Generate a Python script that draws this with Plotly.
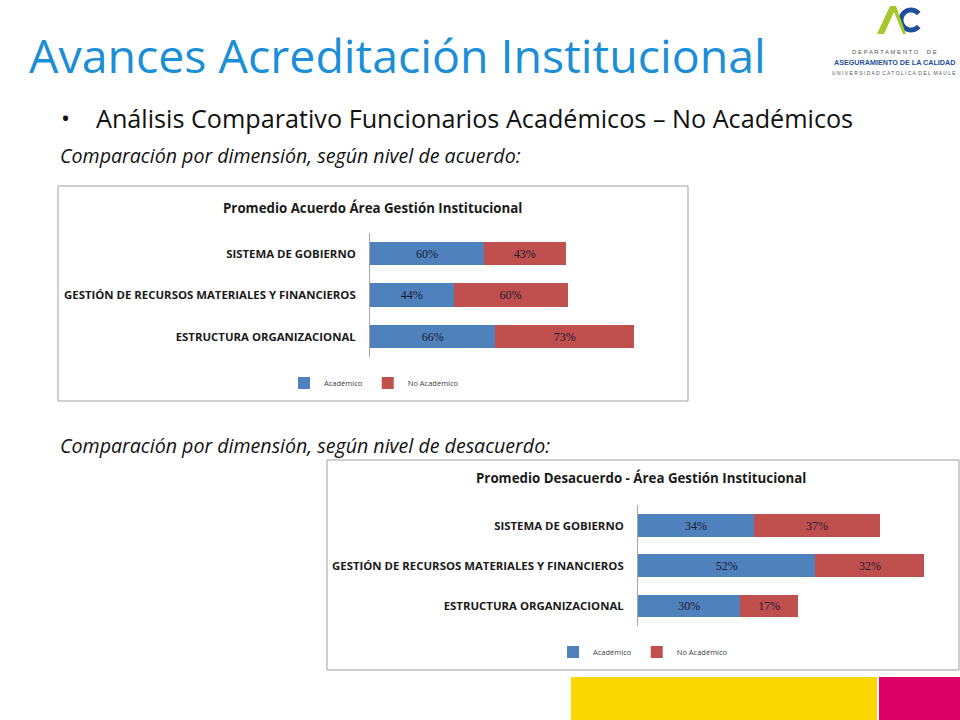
import math
import plotly.graph_objects as go

# ---------------- data ----------------
categories = ["SISTEMA DE GOBIERNO",
              "GESTIÓN DE RECURSOS MATERIALES Y FINANCIEROS",
              "ESTRUCTURA ORGANIZACIONAL"]
series_names = ["Académico", "No Académico"]
acuerdo_academico = [60, 44, 66]
acuerdo_no_academico = [43, 60, 73]
desacuerdo_academico = [34, 52, 30]
desacuerdo_no_academico = [37, 32, 17]

title1 = "Promedio Acuerdo Área Gestión Institucional"
title2 = "Promedio Desacuerdo - Área Gestión Institucional"

W, H = 960, 720
BLUE = "#4F81BD"
RED = "#C0504D"


def px(x):
    return x / W


def py(y):
    return 1 - y / H


fig = go.Figure()

bar_font = dict(family="Liberation Serif", size=12, color="#1a1a2e")

for vals, name, color in [(acuerdo_academico, series_names[0], BLUE),
                          (acuerdo_no_academico, series_names[1], RED)]:
    fig.add_trace(go.Bar(
        y=categories, x=vals, name=name, orientation="h",
        marker=dict(color=color, line=dict(width=0)),
        text=[f"{v}%" for v in vals], textposition="inside",
        insidetextanchor="middle", textfont=bar_font,
        xaxis="x", yaxis="y", legend="legend", hoverinfo="skip"))

for vals, name, color in [(desacuerdo_academico, series_names[0], BLUE),
                          (desacuerdo_no_academico, series_names[1], RED)]:
    fig.add_trace(go.Bar(
        y=categories, x=vals, name=name, orientation="h",
        marker=dict(color=color, line=dict(width=0)),
        text=[f"{v}%" for v in vals], textposition="inside",
        insidetextanchor="middle", textfont=bar_font,
        xaxis="x2", yaxis="y2", legend="legend2", hoverinfo="skip"))

tickfont = dict(family="Open Sans", size=11.4, color="#1a1a1a", weight="bold")

yaxis_common = dict(type="category", categoryorder="array",
                    categoryarray=categories, autorange="reversed",
                    showline=True, linecolor="#a6a6a6", linewidth=1,
                    showgrid=False, zeroline=False, ticks="",
                    ticklabelstandoff=11, tickfont=tickfont, fixedrange=True)
xaxis_common = dict(showline=False, showgrid=False, zeroline=False,
                    showticklabels=False, ticks="", fixedrange=True)

legend_font = dict(family="Open Sans", size=7.5, color="#404040")

fig.update_layout(
    width=W, height=H,
    margin=dict(l=0, r=0, t=0, b=0),
    paper_bgcolor="white", plot_bgcolor="rgba(0,0,0,0)",
    barmode="stack", bargap=0.44,
    xaxis=dict(domain=[px(370), px(660)], range=[0, (660 - 370) / 1.9],
               anchor="y", **xaxis_common),
    yaxis=dict(domain=[py(357.25), py(232.75)], anchor="x", **yaxis_common),
    xaxis2=dict(domain=[px(638), px(950)], range=[0, (950 - 638) / 3.41],
                anchor="y2", **xaxis_common),
    yaxis2=dict(domain=[py(626.1), py(505.4)], anchor="x2", **yaxis_common),
    legend=dict(orientation="h", x=px(374), y=py(383), xanchor="center",
                yanchor="middle", traceorder="normal", font=legend_font,
                itemwidth=30, bgcolor="rgba(0,0,0,0)", itemclick=False),
    legend2=dict(orientation="h", x=px(643), y=py(652), xanchor="center",
                 yanchor="middle", traceorder="normal", font=legend_font,
                 itemwidth=30, bgcolor="rgba(0,0,0,0)", itemclick=False),
    showlegend=True,
)

shapes = [
    # chart borders
    dict(type="rect", xref="paper", yref="paper", x0=px(58), x1=px(688),
         y0=py(401), y1=py(186), line=dict(color="#a0a0a0", width=1)),
    dict(type="rect", xref="paper", yref="paper", x0=px(327), x1=px(959),
         y0=py(670), y1=py(460), line=dict(color="#a0a0a0", width=1)),
    # footer blocks
    dict(type="rect", xref="paper", yref="paper", x0=px(571), x1=px(877),
         y0=0, y1=py(677), line=dict(width=0), fillcolor="#FDD700"),
    dict(type="rect", xref="paper", yref="paper", x0=px(879), x1=1,
         y0=0, y1=py(677), line=dict(width=0), fillcolor="#DC0067"),
]


def path(points):
    s = ""
    for i, (x, y) in enumerate(points):
        s += ("M" if i == 0 else "L") + f"{px(x):.5f},{py(y):.5f} "
    return s + "Z"


# logo: blue C
outer, inner = 12.5, 7.5
cx, cy = 911, 20
pts = []
for a in range(40, 321, 10):
    r = math.radians(a)
    pts.append((cx + outer * math.cos(r), cy - outer * math.sin(r)))
for a in range(320, 39, -10):
    r = math.radians(a)
    pts.append((cx + inner * math.cos(r), cy - inner * math.sin(r)))
shapes.append(dict(type="path", xref="paper", yref="paper", path=path(pts),
                   fillcolor="#1E4F9C", line=dict(width=0)))
# logo: green lambda
shapes.append(dict(type="path", xref="paper", yref="paper",
                   path=path([(877, 34), (884, 34), (894, 12), (903, 34),
                              (906, 34), (896, 6), (890, 6)]),
                   fillcolor="#A8C82A", line=dict(width=0)))

fig.update_layout(shapes=shapes)


def note(text, x, y, size, color="#111", family="Open Sans", xanchor="left",
         weight="normal"):
    return dict(text=text, x=px(x), y=py(y), xref="paper", yref="paper",
                xanchor=xanchor, yanchor="middle", showarrow=False,
                font=dict(family=family, size=size, color=color, weight=weight))


ann = [
    note("Avances Acreditación Institucional", 27, 55, 46.5, color="#1B8ED8"),
    note("•", 59, 118, 24),
    note("Análisis Comparativo Funcionarios Académicos – No Académicos", 94, 118, 25.2),
    note("<i>Comparación por dimensión, según nivel de acuerdo:</i>", 58, 155, 19.6),
    note("<i>Comparación por dimensión, según nivel de desacuerdo:</i>", 58, 445, 19.6),
    note(title1, 372, 208, 13.3, color="#1a1a1a", xanchor="center", weight="bold"),
    note(title2, 641, 478, 13.3, color="#1a1a1a", xanchor="center", weight="bold"),
    note("D E P A R T A M E N T O &nbsp; &nbsp; D E", 894, 52, 6,
         color="#555", family="Liberation Sans", xanchor="center"),
    note("ASEGURAMIENTO DE LA CALIDAD", 894, 62, 7.2, color="#1E4F9C",
         family="Liberation Sans", xanchor="center", weight="bold"),
    note("U N I V E R S I D A D &nbsp;C A T O L I C A &nbsp;D E L &nbsp;M A U L E",
         894, 73, 5, color="#555", family="Liberation Sans", xanchor="center"),
]
fig.update_layout(annotations=ann)

fig.write_html("out.html",
               config={"displayModeBar": False},
               post_script="document.body.style.margin='0';"
                           "document.body.style.overflow='hidden';")
